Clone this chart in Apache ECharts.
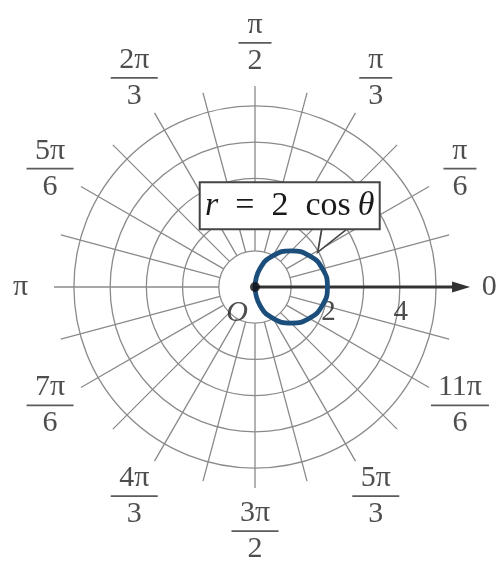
<!DOCTYPE html>
<html>
<head>
<meta charset="utf-8">
<script src="https://cdn.jsdelivr.net/npm/echarts@6/dist/echarts.min.js"></script>
<style>
html, body { margin: 0; padding: 0; background: #fff; }
#main { width: 499px; height: 561px; }
</style>
</head>
<body>
<div id="main"></div>
<script>
// angle labels every pi/6, written as "num/den"
var angleTicks = [0, 30, 60, 90, 120, 150, 180, 210, 240, 270, 300, 330];
var angleNames = ['0', 'π/6', 'π/3', 'π/2', '2π/3', '5π/6', 'π', '7π/6', '4π/3', '3π/2', '5π/3', '11π/6'];
// radius labels shown on the polar axis
var radiusNames = [2, 4];
// r = 2 cos(theta), every 15 degrees
var curveAngles = [90, 75, 60, 45, 30, 15, 0, 345, 330, 315, 300, 285, 270];
var curveRadii = [0, 0.52, 1, 1.41, 1.73, 1.93, 2, 1.93, 1.73, 1.41, 1, 0.52, 0];

var serif = 'Liberation Serif';
var gridColor = '#8a8a8a';
var labelRx = 6.47, labelRy = 6.74;   // angle labels sit on a slightly tall ellipse
var arrowR = 5.69;   // end of the polar axis arrow
var calloutAt = [1.98, 29];
var center = [255, 287];

var chart = echarts.init(document.getElementById('main'));

function fracLabel(s) {
    var parts = s.split('/');
    if (parts.length == 1) {
        return '{s|' + s + '}';
    }
    var barStyle = parts[0].length == 1 ? 'b1' : (parts[0].length == 2 ? 'b2' : 'b3');
    return '{n|' + parts[0] + '}\n{' + barStyle + '|}\n{n|' + parts[1] + '}';
}

function labelRadius(deg) {
    var t = deg * Math.PI / 180;
    var c = labelRy * Math.cos(t), s = labelRx * Math.sin(t);
    return labelRx * labelRy / Math.sqrt(c * c + s * s);
}

var labelData = [];
for (var i = 0; i < angleTicks.length; i++) {
    labelData.push({value: [labelRadius(angleTicks[i]), angleTicks[i]], name: angleNames[i]});
}
var curveData = [];
for (var j = 0; j < curveAngles.length; j++) {
    curveData.push([curveRadii[j], curveAngles[j]]);
}
var radiusLabelData = [];
for (var k = 0; k < radiusNames.length; k++) {
    radiusLabelData.push({value: [radiusNames[k], 0], name: String(radiusNames[k])});
}

var option = {
    animation: false,
    backgroundColor: '#fff',
    // polar 0: the grid (starts at r = 1); polar 1: same frame from the pole, for the curve
    polar: [
        {center: center, radius: [36.2, 201]},
        {center: center, radius: [0, 201]}
    ],
    angleAxis: [
        {
            polarIndex: 0,
            type: 'value',
            min: 0,
            max: 360,
            interval: 15,
            startAngle: 0,
            clockwise: false,
            axisLine: {show: false},
            axisTick: {show: false},
            axisLabel: {show: false},
            splitLine: {show: true, lineStyle: {color: gridColor, width: 1.3}}
        },
        {
            polarIndex: 1,
            type: 'value',
            min: 0,
            max: 360,
            startAngle: 0,
            clockwise: false,
            axisLine: {show: false},
            axisTick: {show: false},
            axisLabel: {show: false},
            splitLine: {show: false}
        }
    ],
    radiusAxis: [
        {
            polarIndex: 0,
            type: 'value',
            min: 1,
            max: 5.55,
            interval: 1,
            axisLine: {show: false},
            axisTick: {show: false},
            axisLabel: {show: false},
            splitLine: {
                show: true,
                lineStyle: {
                    color: [gridColor, gridColor, gridColor, gridColor, gridColor, 'rgba(0,0,0,0)'],
                    width: 1.3
                }
            }
        },
        {
            polarIndex: 1,
            type: 'value',
            min: 0,
            max: 5.55,
            axisLine: {show: false},
            axisTick: {show: false},
            axisLabel: {show: false},
            splitLine: {show: false}
        }
    ],
    series: [
        {
            // polar axis with arrow
            type: 'line',
            coordinateSystem: 'polar',
            polarIndex: 1,
            clip: false,
            silent: true,
            z: 3,
            lineStyle: {color: '#333', width: 2.8},
            itemStyle: {color: '#333'},
            data: [
                {value: [0, 0], symbol: 'none'},
                {value: [arrowR, 0], symbol: 'triangle', symbolSize: [11, 18], symbolRotate: -90}
            ]
        },
        {
            type: 'line',
            coordinateSystem: 'polar',
            polarIndex: 1,
            clip: false,
            smooth: true,
            showSymbol: false,
            z: 4,
            lineStyle: {color: '#1c4e7c', width: 4.8},
            data: curveData,
            markPoint: {
                symbol: 'path://M0,0 L4,-23 L29,-23 Z',
                symbolSize: [29, 23],
                symbolOffset: [14.5, -11.5],
                itemStyle: {color: '#fff', borderColor: '#444', borderWidth: 1.6},
                label: {
                    show: true,
                    position: 'inside',
                    offset: [-42.5, -35],
                    width: 168,
                    align: 'center',
                    backgroundColor: '#fff',
                    borderColor: '#444',
                    borderWidth: 2,
                    padding: [4, 5],
                    formatter: '{i|r}{t|\u2002=\u20022\u2002cos\u2009}{i|θ}',
                    rich: {
                        i: {fontFamily: serif, fontStyle: 'italic', fontSize: 34, lineHeight: 37, color: '#1a1a1a'},
                        t: {fontFamily: serif, fontSize: 34, lineHeight: 37, color: '#1a1a1a'}
                    }
                },
                data: [{coord: calloutAt}]
            }
        },
        {
            // the pole
            type: 'scatter',
            coordinateSystem: 'polar',
            polarIndex: 1,
            clip: false,
            z: 5,
            symbolSize: 10,
            itemStyle: {color: '#111'},
            label: {
                show: true,
                position: 'inside',
                offset: [-18, 26],
                formatter: 'O',
                fontFamily: serif,
                fontStyle: 'italic',
                fontSize: 30,
                color: '#222'
            },
            data: [[0, 0]]
        },
        {
            // radius labels below the polar axis
            type: 'scatter',
            coordinateSystem: 'polar',
            polarIndex: 1,
            clip: false,
            silent: true,
            symbolSize: 1,
            itemStyle: {color: 'rgba(0,0,0,0)'},
            label: {
                show: true,
                position: 'inside',
                offset: [1, 25],
                formatter: '{b}',
                fontFamily: serif,
                fontSize: 29,
                color: '#222'
            },
            data: radiusLabelData
        },
        {
            // angle labels
            type: 'scatter',
            coordinateSystem: 'polar',
            polarIndex: 1,
            clip: false,
            silent: true,
            symbolSize: 1,
            itemStyle: {color: 'rgba(0,0,0,0)'},
            label: {
                show: true,
                position: 'inside',
                align: 'center',
                formatter: function (p) { return fracLabel(p.name); },
                rich: {
                    s: {fontFamily: serif, fontSize: 30, color: '#222'},
                    n: {fontFamily: serif, fontSize: 30, lineHeight: 33, color: '#222', align: 'center'},
                    b1: {width: 33, height: 1.8, lineHeight: 3, backgroundColor: '#333', align: 'center'},
                    b2: {width: 47, height: 1.8, lineHeight: 3, backgroundColor: '#333', align: 'center'},
                    b3: {width: 58, height: 1.8, lineHeight: 3, backgroundColor: '#333', align: 'center'}
                }
            },
            data: labelData
        }
    ]
};

chart.setOption(option);
</script>
</body>
</html>
